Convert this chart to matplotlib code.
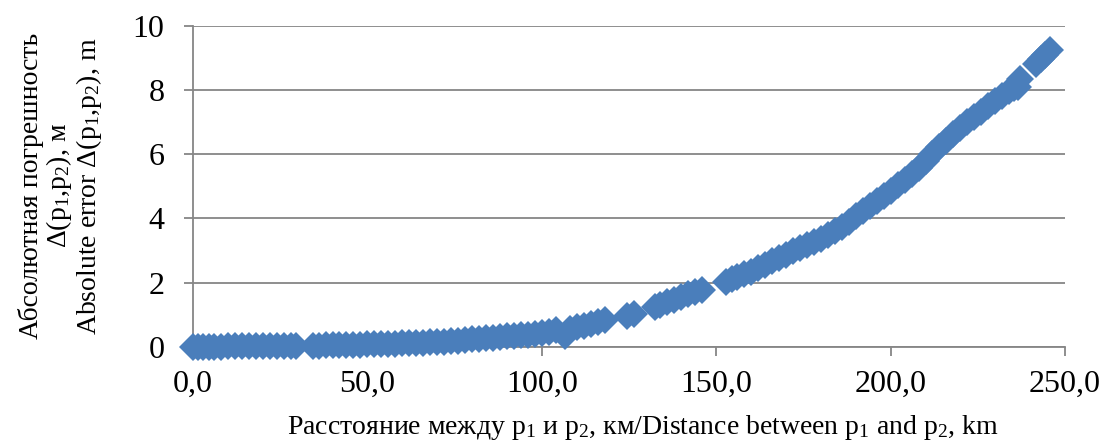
import matplotlib
matplotlib.use("Agg")
import matplotlib.pyplot as plt

plt.rcParams['font.family'] = ['Liberation Serif', 'DejaVu Serif']
plt.rcParams['mathtext.fontset'] = 'custom'
plt.rcParams['mathtext.rm'] = 'Liberation Serif'

# distance between p1 and p2, km
dist = [0.0, 1.5, 3.0, 4.5, 6.0, 8.0, 10.0, 12.0, 14.0, 16.0, 18.0, 20.0, 22.0, 24.0, 26.0, 28.0, 29.5,
        34.5, 36.0, 38.0, 40.0, 42.0, 44.0, 46.0, 48.0, 50.0, 52.0, 54.0, 56.0, 58.0, 60.0, 62.0,
        64.0, 66.0, 68.0, 70.0, 72.0, 74.0, 76.0, 78.0, 80.0, 82.0, 84.0, 86.0, 88.0, 90.0, 92.0,
        94.0, 96.0, 98.0, 100.0, 102.0, 104.0, 106.6, 108.0, 110.0, 112.0, 114.0, 116.0, 118.0,
        124.5, 126.5, 132.5, 134.0, 136.0, 138.0, 140.0, 142.0, 144.0, 145.8,
        152.8, 154.5, 156.0, 158.0, 160.0, 162.0, 164.0, 166.0, 168.0, 170.0, 172.0, 174.0,
        176.0, 178.0, 180.0, 182.0, 184.0, 186.0, 188.0, 190.0, 192.0, 194.0, 196.0, 198.0,
        200.0, 202.0, 204.0, 206.0, 208.0, 210.0, 212.0, 214.0, 216.0, 218.0, 220.0, 222.0,
        224.0, 226.0, 228.0, 230.0, 232.0, 234.0, 235.5, 236.5, 237.2, 241.8, 243.0, 244.2,
        245.7]

# absolute error, m
err = [0.00, 0.00, 0.00, 0.00, 0.00, 0.00, 0.01, 0.01, 0.01, 0.01, 0.01, 0.01, 0.02, 0.02, 0.02, 0.02, 0.03,
       0.03, 0.03, 0.04, 0.04, 0.05, 0.05, 0.06, 0.06, 0.07, 0.07, 0.08, 0.08, 0.09, 0.10, 0.11,
       0.12, 0.13, 0.14, 0.15, 0.16, 0.18, 0.19, 0.21, 0.23, 0.25, 0.26, 0.28, 0.30, 0.32, 0.34,
       0.36, 0.38, 0.41, 0.44, 0.47, 0.52, 0.34, 0.55, 0.60, 0.66, 0.71, 0.77, 0.83,
       0.95, 1.03, 1.24, 1.30, 1.39, 1.47, 1.55, 1.63, 1.71, 1.78,
       2.01, 2.10, 2.16, 2.25, 2.33, 2.44, 2.56, 2.67, 2.77, 2.87, 2.97, 3.07,
       3.17, 3.27, 3.37, 3.49, 3.60, 3.72, 3.90, 4.07, 4.22, 4.38, 4.54, 4.70,
       4.86, 5.03, 5.20, 5.37, 5.57, 5.77, 5.99, 6.21, 6.42, 6.63, 6.82, 6.99,
       7.16, 7.32, 7.49, 7.66, 7.82, 7.97, 8.05, 8.10, 8.35, 8.82, 8.96, 9.09,
       9.24]

x_ticks = [0, 50, 100, 150, 200, 250]
x_labels = ['0,0', '50,0', '100,0', '150,0', '200,0', '250,0']
y_ticks = [0, 2, 4, 6, 8, 10]

grid_col = '#868686'

fig = plt.figure(figsize=(11.04, 4.45), dpi=100)
ax = fig.add_axes([0.1748, 0.2209, 0.7899, 0.7213])

ax.plot(dist, err, linestyle='none', marker='D', markersize=14,
        color='#4A7EBB', markeredgewidth=0, zorder=3, clip_on=False)

ax.set_xlim(0, 250)
ax.set_ylim(0, 10)
ax.set_xticks(x_ticks)
ax.set_xticklabels(x_labels)
ax.set_yticks(y_ticks)

ax.grid(axis='y', color=grid_col, linewidth=1.3)
ax.set_axisbelow(True)
for s in ['top', 'right']:
    ax.spines[s].set_visible(False)
for s in ['left', 'bottom']:
    ax.spines[s].set_color(grid_col)
    ax.spines[s].set_linewidth(1.3)

ax.tick_params(axis='both', direction='out', length=6.5, width=1.3,
               labelsize=23, colors=grid_col, labelcolor='black')
ax.tick_params(axis='y', pad=14)
ax.tick_params(axis='x', pad=10)

fig.text(643 / 1104, 1 - 428 / 445,
         'Расстояние между $\\mathregular{p_1}$ и $\\mathregular{p_2}$, км/'
         'Distance between $\\mathregular{p_1}$ and $\\mathregular{p_2}$, km',
         ha='center', va='center', fontsize=20)

fig.text(61 / 1104, 1 - 186 / 445,
         'Абсолютная погрешность\n'
         'Δ($\\mathregular{p_1}$,$\\mathregular{p_2}$), м\n'
         'Absolute error Δ($\\mathregular{p_1}$,$\\mathregular{p_2}$), m',
         ha='center', va='center', rotation=90, fontsize=20,
         multialignment='center', linespacing=1.0)

fig.savefig('out.png', dpi=100)
